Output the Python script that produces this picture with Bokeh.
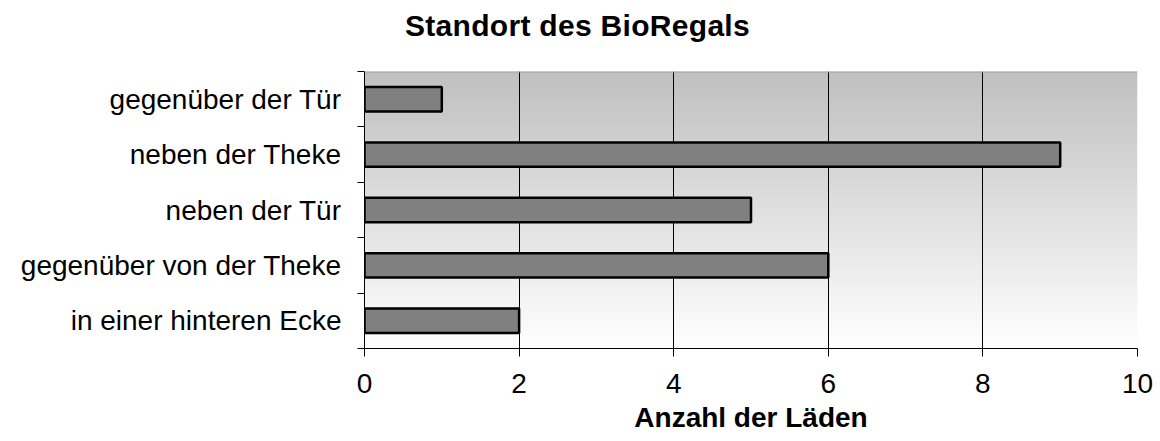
import numpy as np
from bokeh.plotting import figure
from bokeh.models import FixedTicker, Range1d, Span, ColumnDataSource, Div
from bokeh.layouts import column
from bokeh.embed import file_html
from bokeh.resources import INLINE

# ---- data ----
categories = ["in einer hinteren Ecke", "gegenüber von der Theke", "neben der Tür",
              "neben der Theke", "gegenüber der Tür"]
counts = [2, 6, 5, 9, 1]
x_ticks = [0, 2, 4, 6, 8, 10]
title_text = "Standort des BioRegals"
x_label = "Anzahl der Läden"

FONT = "Liberation Sans"

TITLE_H = 46
title = Div(text=title_text, width=1160 - 405, height=TITLE_H - 9, margin=(9, 0, 0, 405),
            styles={"font-family": FONT, "font-size": "30px", "font-weight": "bold",
                    "color": "black", "white-space": "nowrap", "line-height": "normal",
                    "letter-spacing": "0.3px"})

p = figure(width=1160, height=441 - TITLE_H, output_backend="svg", toolbar_location=None,
           x_range=Range1d(0, 10), y_range=Range1d(0, len(categories)),
           min_border_left=364, min_border_top=71 - TITLE_H, min_border_right=23,
           min_border_bottom=93, margin=0)

# gradient background (decorative)
n = 256
g = np.linspace(255, 192, n).astype(np.uint32)
rgba = (255 << 24) | (g << 16) | (g << 8) | g
img = np.repeat(rgba[:, None], 2, axis=1)
r_img = p.image_rgba(image=[img], x=0, y=0, dw=10, dh=len(categories))
r_img.level = "image"

p.add_layout(Span(location=len(categories), dimension="width", line_color="#a0a0a0", line_width=2))

ypos = [i + 0.5 for i in range(len(categories))]
src = ColumnDataSource(dict(y=ypos, right=counts, cat=categories))
p.hbar(y="y", left=0, right="right", height=0.44, source=src,
       fill_color="#808080", line_color="black", line_width=2.5)

p.background_fill_color = "white"
p.border_fill_color = "white"
p.outline_line_color = None

# x axis
xa = p.xaxis[0]
xa.ticker = FixedTicker(ticks=x_ticks, minor_ticks=[])
xa.major_tick_out = 8
xa.major_tick_in = 0
xa.major_tick_line_color = "black"
xa.axis_line_color = "black"
xa.major_label_text_font = FONT
xa.major_label_text_font_size = "28px"
xa.major_label_text_color = "black"
xa.major_label_standoff = 17
xa.axis_label = x_label
xa.axis_label_text_font = FONT
xa.axis_label_text_font_size = "28px"
xa.axis_label_text_font_style = "bold"
xa.axis_label_text_color = "black"
xa.axis_label_standoff = 6

# y axis
ya = p.yaxis[0]
ya.ticker = FixedTicker(ticks=ypos, minor_ticks=list(range(len(categories) + 1)))
ya.major_label_overrides = {y: c for y, c in zip(ypos, categories)}
ya.major_tick_out = 0
ya.major_tick_in = 0
ya.minor_tick_out = 7
ya.minor_tick_in = 0
ya.minor_tick_line_color = "black"
ya.axis_line_color = "black"
ya.major_label_text_font = FONT
ya.major_label_text_font_size = "28px"
ya.major_label_text_color = "black"
ya.major_label_standoff = 16

# grids
p.xgrid.ticker = FixedTicker(ticks=x_ticks[1:])
p.xgrid.grid_line_color = "black"
p.xgrid.grid_line_width = 1
p.ygrid.grid_line_color = None

layout = column(title, p, spacing=0, margin=0)
open("out.html", "w").write(file_html(layout, INLINE))
